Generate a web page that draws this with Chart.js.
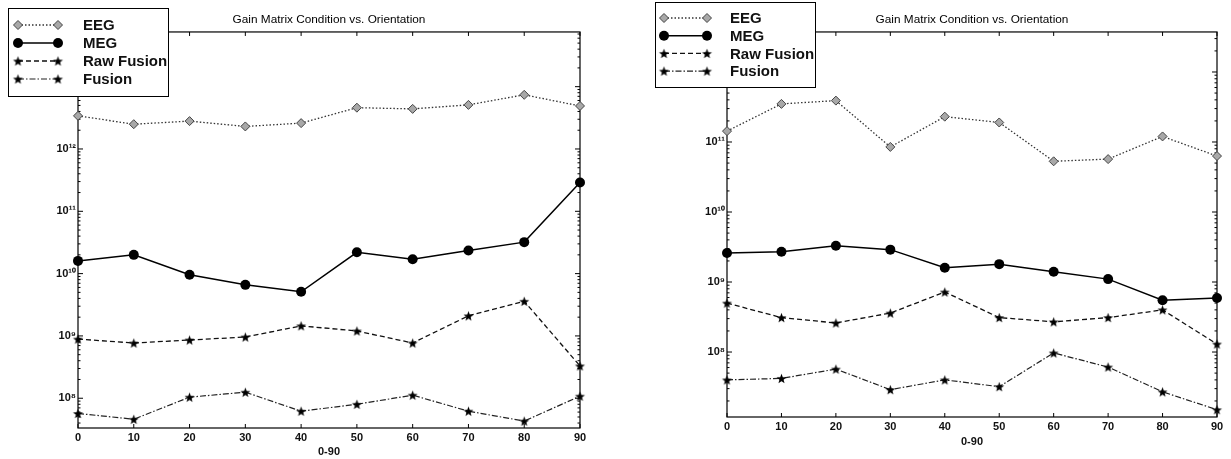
<!DOCTYPE html>
<html>
<head>
<meta charset="utf-8">
<script src="https://cdn.jsdelivr.net/npm/chart.js@4.4.1/dist/chart.umd.min.js"></script>
<style>
  body { margin: 0; background: #fff; }
  .panel { position: absolute; top: 0; }
</style>
</head>
<body>
<div class="panel" style="left:0"><canvas id="left" width="615" height="459"></canvas></div>
<div class="panel" style="left:615px"><canvas id="right" width="616" height="459"></canvas></div>
<script>
// shared x categories (orientation, degrees)
const angles = [0, 10, 20, 30, 40, 50, 60, 70, 80, 90];
const seriesNames = ['EEG', 'MEG', 'Raw Fusion', 'Fusion'];
const chartTitle = 'Gain Matrix Condition vs. Orientation';
const xTitle = '0-90';

// left panel values
const eegLeft = [3.4e12, 2.5e12, 2.8e12, 2.3e12, 2.6e12, 4.6e12, 4.4e12, 5.1e12, 7.4e12, 4.9e12];
const megLeft = [1.6e10, 2.0e10, 9.6e9, 6.6e9, 5.1e9, 2.2e10, 1.7e10, 2.35e10, 3.2e10, 2.9e11];
const rawLeft = [8.9e8, 7.7e8, 8.6e8, 9.6e8, 1.45e9, 1.2e9, 7.7e8, 2.1e9, 3.6e9, 3.3e8];
const fusLeft = [5.7e7, 4.6e7, 1.04e8, 1.25e8, 6.2e7, 8.0e7, 1.12e8, 6.2e7, 4.3e7, 1.08e8];

// right panel values
const eegRight = [1.43e11, 3.5e11, 3.9e11, 8.5e10, 2.3e11, 1.9e11, 5.3e10, 5.7e10, 1.2e11, 6.3e10];
const megRight = [2.6e9, 2.7e9, 3.3e9, 2.9e9, 1.6e9, 1.8e9, 1.4e9, 1.1e9, 5.5e8, 5.9e8];
const rawRight = [5.0e8, 3.1e8, 2.6e8, 3.6e8, 7.2e8, 3.1e8, 2.7e8, 3.1e8, 4.0e8, 1.3e8];
const fusRight = [4.0e7, 4.2e7, 5.7e7, 2.9e7, 4.0e7, 3.2e7, 9.7e7, 6.1e7, 2.7e7, 1.5e7];

// y axis limits
const yLimitsLeft = [3.33e7, 7.55e13];
const yLimitsRight = [1.18e7, 3.73e12];

Chart.defaults.font.family = "Arial, 'Liberation Sans', sans-serif";
Chart.defaults.color = '#111';

// filled 5 point star used as marker
function makeStar(r) {
  const s = Math.ceil(r * 2 + 2);
  const c = document.createElement('canvas');
  c.width = s; c.height = s;
  const g = c.getContext('2d');
  g.fillStyle = '#000';
  g.beginPath();
  for (let i = 0; i < 10; i++) {
    const rr = i % 2 ? r * 0.42 : r;
    const a = -Math.PI / 2 + i * Math.PI / 5;
    g.lineTo(s / 2 + rr * Math.cos(a), s / 2 + 0.5 + rr * Math.sin(a));
  }
  g.closePath();
  g.fill();
  return c;
}
const star = makeStar(5.2);

const styles = [
  { color: '#333', width: 1.3, dash: [1.5, 2], marker: 'diamond' },
  { color: '#000', width: 1.5, dash: [], marker: 'circle' },
  { color: '#111', width: 1.3, dash: [5, 3], marker: 'star' },
  { color: '#222', width: 1.2, dash: [6, 2, 1.5, 2], marker: 'star' }
];

const supDigits = { '0': '⁰', '1': '¹', '2': '²', '3': '³', '4': '⁴', '5': '⁵', '6': '⁶', '7': '⁷', '8': '⁸', '9': '⁹' };
function logLabel(v) {
  const e = Math.log10(v);
  if (Math.abs(e - Math.round(e)) > 1e-9) return '';
  return '10' + String(Math.round(e)).split('').map(d => supDigits[d]).join('');
}

function drawMarker(ctx, kind, x, y) {
  ctx.save();
  ctx.setLineDash([]);
  if (kind === 'diamond') {
    ctx.beginPath();
    ctx.moveTo(x - 4.5, y); ctx.lineTo(x, y - 4.5); ctx.lineTo(x + 4.5, y); ctx.lineTo(x, y + 4.5);
    ctx.closePath();
    ctx.fillStyle = '#a8a8a8'; ctx.fill();
    ctx.strokeStyle = '#444'; ctx.lineWidth = 1; ctx.stroke();
  } else if (kind === 'circle') {
    ctx.beginPath();
    ctx.arc(x, y, 5, 0, Math.PI * 2);
    ctx.fillStyle = '#000'; ctx.fill();
  } else {
    ctx.drawImage(star, x - star.width / 2, y - star.height / 2);
  }
  ctx.restore();
}

// axes box, inward ticks and the boxed legend
const framePlugin = {
  id: 'frame',
  beforeDatasetsDraw(chart) {
    const { ctx, chartArea: a, scales: { x, y } } = chart;
    ctx.save();
    ctx.strokeStyle = '#000';
    ctx.lineWidth = 1.2;
    ctx.strokeRect(a.left, a.top, a.right - a.left, a.bottom - a.top);
    ctx.lineWidth = 1;
    ctx.beginPath();
    angles.forEach(v => {
      const px = x.getPixelForValue(v);
      ctx.moveTo(px, a.bottom); ctx.lineTo(px, a.bottom - 4);
      ctx.moveTo(px, a.top); ctx.lineTo(px, a.top + 4);
    });
    const lo = Math.floor(Math.log10(y.min)), hi = Math.ceil(Math.log10(y.max));
    for (let e = lo; e <= hi; e++) {
      for (let m = 1; m <= 9; m++) {
        const v = m * Math.pow(10, e);
        if (v < y.min || v > y.max) continue;
        const py = y.getPixelForValue(v);
        const len = m === 1 ? 5 : 2.5;
        ctx.moveTo(a.left, py); ctx.lineTo(a.left + len, py);
        ctx.moveTo(a.right, py); ctx.lineTo(a.right - len, py);
      }
    }
    ctx.stroke();
    ctx.restore();
  },
  afterDraw(chart, args, opts) {
    const L = opts.legend;
    if (!L) return;
    const ctx = chart.ctx;
    ctx.save();
    ctx.fillStyle = '#fff';
    ctx.fillRect(L.x, L.y, L.w, L.h);
    ctx.strokeStyle = '#000';
    ctx.lineWidth = 1;
    ctx.strokeRect(L.x + 0.5, L.y + 0.5, L.w, L.h);
    seriesNames.forEach((name, i) => {
      const st = styles[i];
      const ry = L.row0 + i * L.step;
      ctx.strokeStyle = st.color;
      ctx.lineWidth = st.width;
      ctx.setLineDash(st.dash);
      ctx.beginPath();
      ctx.moveTo(L.m1, ry); ctx.lineTo(L.m2, ry);
      ctx.stroke();
      drawMarker(ctx, st.marker, L.m1, ry);
      drawMarker(ctx, st.marker, L.m2, ry);
      ctx.setLineDash([]);
      ctx.fillStyle = '#111';
      ctx.font = "bold 15px Arial, 'Liberation Sans', sans-serif";
      ctx.textBaseline = 'middle';
      ctx.fillText(name, L.tx, ry + 1);
    });
    ctx.restore();
  }
};

function buildDatasets(values) {
  return values.map((vals, i) => {
    const st = styles[i];
    const ds = {
      label: seriesNames[i],
      data: angles.map((a, j) => ({ x: a, y: vals[j] })),
      borderColor: st.color,
      borderWidth: st.width,
      borderDash: st.dash,
      tension: 0,
      fill: false,
      clip: false
    };
    if (st.marker === 'diamond') {
      Object.assign(ds, { pointStyle: 'rectRot', pointRadius: 4.5, pointBackgroundColor: '#a8a8a8', pointBorderColor: '#444', pointBorderWidth: 1 });
    } else if (st.marker === 'circle') {
      Object.assign(ds, { pointStyle: 'circle', pointRadius: 5, pointBackgroundColor: '#000', pointBorderColor: '#000', pointBorderWidth: 0 });
    } else {
      Object.assign(ds, { pointStyle: star, pointRadius: 5 });
    }
    return ds;
  });
}

function makeChart(id, values, yLimits, p) {
  return new Chart(document.getElementById(id).getContext('2d'), {
    type: 'line',
    data: { datasets: buildDatasets(values) },
    plugins: [framePlugin],
    options: {
      responsive: false,
      animation: false,
      devicePixelRatio: 1,
      layout: { padding: { left: 0, right: p.padRight, top: 0, bottom: 0 } },
      plugins: {
        legend: { display: false },
        tooltip: { enabled: false },
        title: {
          display: true, text: chartTitle, fullSize: false,
          font: { size: 11.8, weight: 'normal' }, color: '#000',
          padding: { top: 12.4, bottom: 5.4 }
        },
        frame: { legend: p.legend }
      },
      scales: {
        x: {
          type: 'linear', min: 0, max: 90,
          grid: { display: false, drawTicks: false },
          border: { display: false },
          ticks: { stepSize: 10, padding: 3, font: { size: 11, weight: 'bold' }, color: '#111' },
          title: { display: true, text: xTitle, font: { size: 11, weight: 'bold' }, color: '#111', padding: { top: 0, bottom: p.xTitlePad } },
          afterFit: s => { s.height = p.xAxisHeight; }
        },
        y: {
          type: 'logarithmic', min: yLimits[0], max: yLimits[1],
          grid: { display: false, drawTicks: false },
          border: { display: false },
          ticks: { autoSkip: false, padding: 2, font: { size: 11, weight: 'bold' }, color: '#111', callback: logLabel },
          afterFit: s => { s.width = p.yAxisWidth; }
        }
      }
    }
  });
}

makeChart('left', [eegLeft, megLeft, rawLeft, fusLeft], yLimitsLeft, {
  padRight: 35, yAxisWidth: 78, xAxisHeight: 31, xTitlePad: 0,
  legend: { x: 8, y: 8, w: 160, h: 88, row0: 25, step: 18, m1: 18, m2: 58, tx: 83 }
});

makeChart('right', [eegRight, megRight, rawRight, fusRight], yLimitsRight, {
  padRight: 14, yAxisWidth: 112, xAxisHeight: 42, xTitlePad: 10,
  legend: { x: 40, y: 2, w: 160, h: 85, row0: 18, step: 17.7, m1: 49, m2: 92, tx: 115 }
});
</script>
</body>
</html>
